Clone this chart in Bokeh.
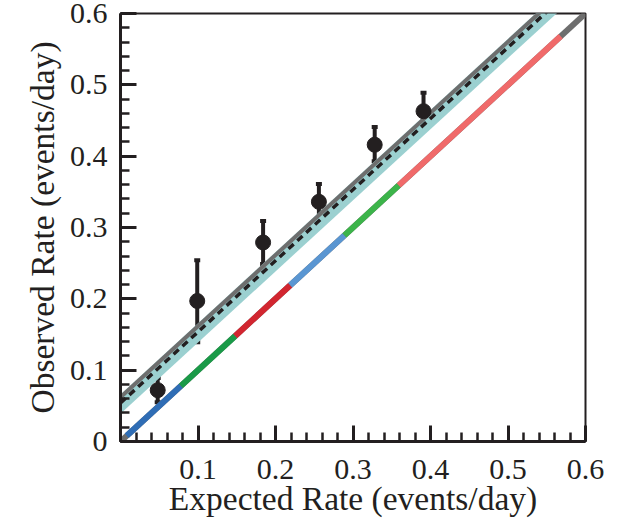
from bokeh.plotting import figure
from bokeh.models import Range1d, FixedTicker, Whisker, TeeHead, ColumnDataSource
from bokeh.embed import file_html
from bokeh.resources import INLINE

# ---- data ----
expected = [0.048, 0.099, 0.184, 0.256, 0.328, 0.391]
observed = [0.072, 0.197, 0.279, 0.336, 0.416, 0.463]
err_low = [0.055, 0.139, 0.249, 0.303, 0.393, 0.437]
err_high = [0.089, 0.254, 0.309, 0.361, 0.441, 0.489]

# colored segments along y = x
seg_edges = [0.008, 0.078, 0.148, 0.219, 0.289, 0.359, 0.568]
seg_colors = ["#2f6db5", "#1a9a48", "#d22630", "#5a96d2", "#3cb44a", "#f06a6a"]

# fitted line y = offset + slope * x with band
fit_slope = 0.997
fit_offset = 0.054
fit_band_low = 0.039
fit_band_high = 0.066
upper_line_offset = 0.062

tick_values = [0.0, 0.1, 0.2, 0.3, 0.4, 0.5, 0.6]
minor_values = [i * 0.02 for i in range(31)]
x_tick_labels = {0.0: ""}
y_tick_labels = {0.0: "0"}

x_min, x_max = 0.0, 0.6

INK = "#231f20"
FONT = "Liberation Serif"

p = figure(width=614, height=519, output_backend="svg", toolbar_location=None,
           x_range=Range1d(x_min, x_max), y_range=Range1d(x_min, x_max),
           min_border_left=120, min_border_right=29, min_border_top=13, min_border_bottom=70)

p.xgrid.visible = False
p.ygrid.visible = False
p.outline_line_color = INK
p.outline_line_width = 2
p.background_fill_color = "white"
p.border_fill_color = "white"

for ax in (p.xaxis[0], p.yaxis[0]):
    ax.ticker = FixedTicker(ticks=tick_values, minor_ticks=minor_values)
    ax.axis_line_color = INK
    ax.axis_line_width = 3
    ax.major_tick_line_color = INK
    ax.major_tick_line_width = 3
    ax.minor_tick_line_color = INK
    ax.minor_tick_line_width = 2.5
    ax.major_tick_in = 16
    ax.major_tick_out = 0
    ax.minor_tick_in = 9
    ax.minor_tick_out = 0
    ax.major_label_text_font = FONT
    ax.major_label_text_font_size = "30px"
    ax.major_label_text_color = INK
    ax.axis_label_text_font = FONT
    ax.axis_label_text_font_size = "33.5px"
    ax.axis_label_text_font_style = "normal"
    ax.axis_label_text_color = INK

p.xaxis[0].axis_label = "Expected Rate (events/day)"
p.yaxis[0].axis_label = "Observed Rate (events/day)"
p.xaxis[0].major_label_overrides = x_tick_labels
p.yaxis[0].major_label_overrides = y_tick_labels
p.xaxis[0].major_label_standoff = 18
p.xaxis[0].axis_label_standoff = -2
p.yaxis[0].major_label_standoff = 13
p.yaxis[0].axis_label_standoff = 6

# band
bx = [x_min, x_max]
p.varea(x=bx, y1=[fit_band_low + fit_slope * v for v in bx],
        y2=[fit_band_high + fit_slope * v for v in bx], fill_color="#9bd0d0")
# gray upper line
p.line(bx, [upper_line_offset + fit_slope * v for v in bx], line_color="#6e6e6e", line_width=4)
# dashed fit
p.line(bx, [fit_offset + fit_slope * v for v in bx], line_color=INK, line_width=3.5,
       line_dash="7 5")

# diagonal y = x
p.line(bx, bx, line_color="#6e6e6e", line_width=6)
for i, c in enumerate(seg_colors):
    xs = [seg_edges[i], seg_edges[i + 1]]
    p.line(xs, xs, line_color=c, line_width=6)

# data points with error bars
src = ColumnDataSource(dict(x=expected, y=observed, lo=err_low, hi=err_high))
w = Whisker(source=src, base="x", lower="lo", upper="hi", dimension="height",
            line_color=INK, line_width=4,
            upper_head=TeeHead(size=6, line_width=4, line_color=INK),
            lower_head=TeeHead(size=6, line_width=4, line_color=INK))
p.add_layout(w)
p.scatter("x", "y", source=src, size=15, fill_color=INK, line_color=INK)

open("out.html", "w").write(file_html(p, INLINE))
